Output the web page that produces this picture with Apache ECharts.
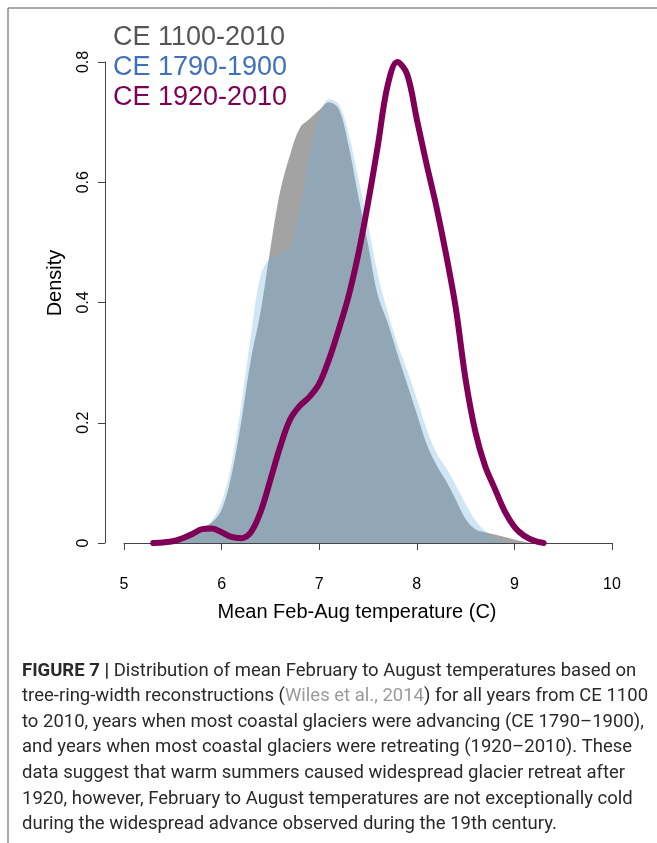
<!DOCTYPE html>
<html>
  <head>
    <meta charset="utf-8" />
    <title>Figure 7 - Feb-Aug temperature densities</title>
    <script src="https://cdn.jsdelivr.net/npm/echarts@6/dist/echarts.min.js"></script>
    <style>
      * {
        margin: 0;
        padding: 0;
      }
      html,
      body,
      #container {
        width: 657px;
        height: 843px;
        background: #fff;
      }
    </style>
  </head>
  <body>
    <div id="container"></div>
    <script>
      // temperature grid (C)
      const temps = [5.3, 5.4, 5.5, 5.6, 5.7, 5.8, 5.9, 6.0, 6.1, 6.2, 6.3, 6.4, 6.5, 6.6, 6.7, 6.8, 6.9, 7.0, 7.1, 7.2,
        7.3, 7.4, 7.5, 7.6, 7.7, 7.8, 7.9, 8.0, 8.1, 8.2, 8.3, 8.4, 8.5, 8.6, 8.7, 8.8, 8.9, 9.0, 9.1, 9.2, 9.3];
      // density, CE 1100-2010
      const dens1100 = [0, 0.001, 0.004, 0.010, 0.018, 0.026, 0.034, 0.055, 0.112, 0.200, 0.305, 0.385, 0.490, 0.585,
        0.645, 0.690, 0.705, 0.720, 0.733, 0.722, 0.662, 0.577, 0.497, 0.412, 0.367, 0.315, 0.265, 0.215, 0.165,
        0.130, 0.103, 0.072, 0.040, 0.023, 0.018, 0.014, 0.010, 0.006, 0.002, 0, 0];
      // density, CE 1790-1900
      const dens1790 = [0, 0.001, 0.003, 0.007, 0.013, 0.021, 0.037, 0.068, 0.130, 0.228, 0.345, 0.445, 0.475, 0.480,
        0.492, 0.552, 0.645, 0.710, 0.738, 0.730, 0.682, 0.607, 0.530, 0.447, 0.385, 0.332, 0.288, 0.240, 0.190,
        0.150, 0.125, 0.096, 0.065, 0.038, 0.020, 0.007, 0.002, 0, 0, 0, 0];
      // density, CE 1920-2010
      const dens1920 = [0, 0.001, 0.003, 0.008, 0.015, 0.023, 0.024, 0.018, 0.010, 0.008, 0.018, 0.052, 0.105, 0.160,
        0.205, 0.228, 0.243, 0.265, 0.305, 0.355, 0.410, 0.480, 0.565, 0.660, 0.760, 0.800, 0.780, 0.705, 0.630,
        0.560, 0.480, 0.390, 0.272, 0.185, 0.128, 0.090, 0.053, 0.027, 0.012, 0.004, 0];

      const periods = ["CE 1100-2010", "CE 1790-1900", "CE 1920-2010"];
      const xTicks = [5, 6, 7, 8, 9, 10];
      const yTicks = [0, 0.2, 0.4, 0.6, 0.8];

      const pairs = (ys) => temps.map((t, i) => [t, ys[i]]);
      const font = "'Liberation Sans', Arial, Helvetica, sans-serif";

      const caption = [
        "{b|FIGURE 7 |} Distribution of mean February to August temperatures based on",
        "tree-ring-width reconstructions ({c|Wiles et al., 2014}) for all years from CE 1100",
        "to 2010, years when most coastal glaciers were advancing (CE 1790–1900),",
        "and years when most coastal glaciers were retreating (1920–2010). These",
        "data suggest that warm summers caused widespread glacier retreat after",
        "1920, however, February to August temperatures are not exceptionally cold",
        "during the widespread advance observed during the 19th century.",
      ];

      const myChart = echarts.init(document.getElementById("container"), null, { renderer: "canvas" });

      const capFont = "'Roboto', " + font;

      myChart.setOption({
        animation: false,
        backgroundColor: "#fff",
        textStyle: { fontFamily: font },
        grid: { left: 124, right: 45, top: 62, bottom: 300 },
        legend: {
          orient: "vertical",
          left: 103,
          top: 19,
          itemGap: 3,
          itemWidth: 0,
          selectedMode: false,
          textStyle: { fontSize: 27, fontFamily: font },
          data: [
            { name: periods[0], icon: "none", textStyle: { color: "#555555" } },
            { name: periods[1], icon: "none", textStyle: { color: "#3f70be" } },
            { name: periods[2], icon: "none", textStyle: { color: "#7e0056" } },
          ],
        },
        xAxis: {
          type: "value",
          min: xTicks[0],
          max: xTicks[xTicks.length - 1],
          interval: 1,
          offset: 20,
          splitLine: { show: false },
          axisLine: { show: true, lineStyle: { color: "#444", width: 1 } },
          axisTick: { show: true, length: 7, lineStyle: { color: "#444" } },
          axisLabel: { fontSize: 16, color: "#000", margin: 14 },
        },
        yAxis: {
          type: "value",
          min: yTicks[0],
          max: yTicks[yTicks.length - 1],
          interval: 0.2,
          offset: 19,
          splitLine: { show: false },
          axisLine: { show: true, lineStyle: { color: "#444", width: 1 } },
          axisTick: { show: true, length: 7, lineStyle: { color: "#444" } },
          axisLabel: {
            fontSize: 16,
            color: "#000",
            rotate: 90,
            margin: 13,
            formatter: (v) => (v === 0 ? "0" : v.toFixed(1)),
          },
        },
        series: [
          {
            name: periods[0],
            type: "line",
            smooth: 0.35,
            symbol: "none",
            data: pairs(dens1100),
            lineStyle: { width: 0, color: "#a3a3a3" },
            itemStyle: { color: "#555555" },
            areaStyle: { color: "rgb(163,163,163)", opacity: 1 },
            z: 1,
          },
          {
            name: periods[1],
            type: "line",
            smooth: 0.35,
            symbol: "none",
            data: pairs(dens1790),
            lineStyle: { width: 0, color: "#70b0df" },
            itemStyle: { color: "#3f70be" },
            areaStyle: { color: "rgba(112,176,223,0.32)", opacity: 1 },
            z: 2,
          },
          {
            name: periods[2],
            type: "line",
            smooth: 0.35,
            symbol: "none",
            data: pairs(dens1920),
            lineStyle: { width: 6, color: "#800058", cap: "round", join: "round" },
            itemStyle: { color: "#7e0056" },
            z: 3,
          },
        ],
        graphic: [
          // figure frame (top and left rules)
          { type: "line", shape: { x1: 8, y1: 8, x2: 657, y2: 8 }, style: { stroke: "#555", lineWidth: 1 } },
          { type: "line", shape: { x1: 8, y1: 8, x2: 8, y2: 843 }, style: { stroke: "#555", lineWidth: 1 } },
          {
            type: "text",
            x: 357,
            y: 612,
            style: {
              text: "Mean Feb-Aug temperature (C)",
              font: "20px " + font,
              fill: "#000",
              align: "center",
              verticalAlign: "middle",
            },
          },
          {
            type: "text",
            x: 55,
            y: 283,
            rotation: Math.PI / 2,
            style: {
              text: "Density",
              font: "20px " + font,
              fill: "#000",
              align: "center",
              verticalAlign: "middle",
            },
          },
        ].concat(
          caption.map((line, i) => ({
            type: "text",
            x: 22,
            y: 671 + i * 25.6,
            style: {
              text: line,
              font: "18.5px " + capFont,
              fill: "#2a2a2a",
              verticalAlign: "middle",
              rich: {
                b: { fontWeight: "bold", fontSize: 18.5, fontFamily: capFont, fill: "#2a2a2a" },
                c: { fontSize: 18.5, fontFamily: capFont, fill: "#9a9a9a" },
              },
            },
          }))
        ),
      });
    </script>
  </body>
</html>
